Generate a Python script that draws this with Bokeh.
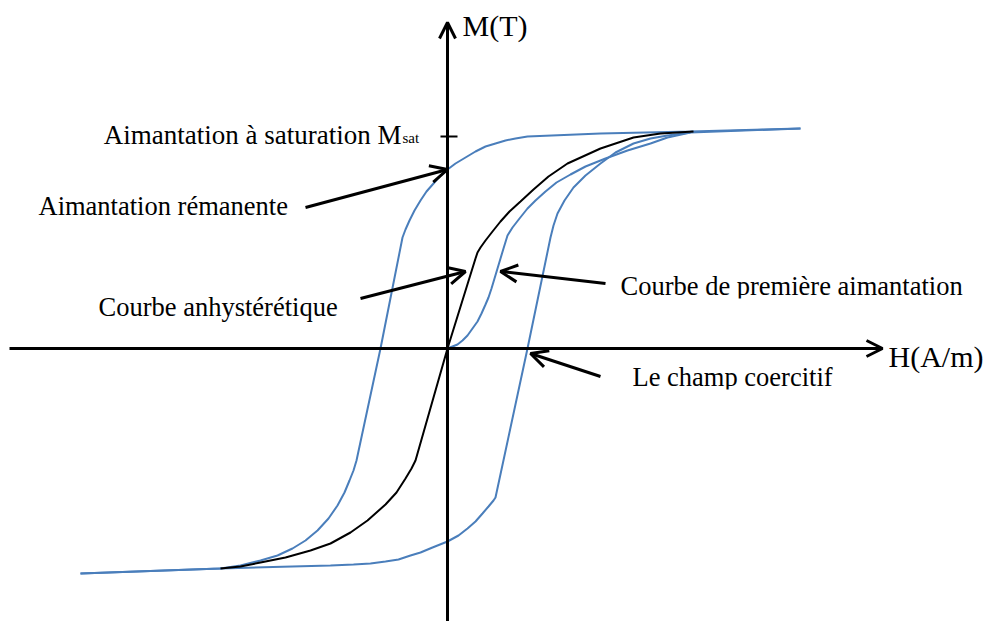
from bokeh.plotting import figure
from bokeh.models import Range1d, Arrow, OpenHead
from bokeh.core.properties import value
from bokeh.embed import file_html
from bokeh.resources import INLINE

# Hysteresis loop, descending branch (from +Msat towards -Msat)
desc_H = [3.53, 2.43, 1.53, 0.80, 0.68, 0.58, 0.48, 0.38, 0.28, 0.18, 0.08, 0.00,
          -0.07, -0.14, -0.21, -0.27, -0.33, -0.38, -0.42, -0.45,
          -0.67,
          -0.91, -0.94, -0.98, -1.03, -1.10, -1.19, -1.30, -1.42, -1.55, -1.70,
          -1.87, -2.07, -2.27, -3.67]
desc_M = [2.20, 2.17, 2.15, 2.12, 2.10, 2.08, 2.05, 2.02, 1.97, 1.91, 1.85, 1.79,
          1.73, 1.65, 1.57, 1.48, 1.38, 1.28, 1.19, 1.11,
          0.00,
          -1.12, -1.22, -1.32, -1.44, -1.57, -1.70, -1.82, -1.92, -2.00, -2.07,
          -2.12, -2.17, -2.20, -2.25]

# Hysteresis loop, ascending branch (from -Msat towards +Msat)
asc_H = [-3.67, -2.27, -1.17, -0.94, -0.77, -0.62, -0.49, -0.37, -0.27, -0.15, 0.00,
         0.11, 0.20, 0.28, 0.35, 0.41, 0.46, 0.48,
         0.80,
         1.03, 1.06, 1.10, 1.17, 1.26, 1.38, 1.53, 1.68, 1.86, 2.03, 2.20, 2.43, 3.53]
asc_M = [-2.25, -2.20, -2.17, -2.16, -2.15, -2.13, -2.11, -2.07, -2.04, -1.99, -1.93,
         -1.87, -1.80, -1.73, -1.65, -1.58, -1.52, -1.49,
         0.00,
         1.11, 1.23, 1.35, 1.48, 1.61, 1.73, 1.85, 1.96, 2.05, 2.10, 2.13, 2.16, 2.20]

# First magnetization curve
first_H = [0.00, 0.05, 0.10, 0.15, 0.20, 0.25, 0.30, 0.34, 0.38, 0.41, 0.44, 0.47,
           0.50, 0.53, 0.56, 0.60, 0.65, 0.72, 0.80, 0.88, 0.98, 1.09, 1.23, 1.38,
           1.58, 1.80, 2.03, 2.20, 2.43]
first_M = [0.00, 0.02, 0.04, 0.08, 0.13, 0.20, 0.27, 0.35, 0.44, 0.51, 0.60, 0.70,
           0.80, 0.90, 1.00, 1.13, 1.21, 1.30, 1.40, 1.48, 1.57, 1.66, 1.74, 1.82,
           1.90, 1.98, 2.05, 2.11, 2.16]

# Anhysteretic curve
anh_H = [2.46, 2.13, 1.86, 1.53, 1.20, 1.01, 0.86, 0.73, 0.62, 0.53, 0.45, 0.38,
         0.33, 0.30, 0.28,
         0.00,
         -0.32, -0.36, -0.42, -0.51, -0.62, -0.80, -0.97, -1.17, -1.37, -1.62,
         -1.87, -2.07, -2.27]
anh_M = [2.17, 2.15, 2.11, 2.00, 1.85, 1.72, 1.59, 1.47, 1.37, 1.27, 1.17, 1.08,
         1.01, 0.96, 0.90,
         0.00,
         -1.12, -1.20, -1.30, -1.44, -1.56, -1.72, -1.84, -1.95, -2.02, -2.09,
         -2.14, -2.18, -2.20]

M_sat = 2.12
M_rem = 1.79
H_c = 0.80

BLUE = "#4a7ebb"
SERIF = value("Liberation Serif")
TY = 0.11  # lift so the alphabetic baseline lands where intended

p = figure(width=993, height=621, x_range=Range1d(-4.47, 5.46),
           y_range=Range1d(-2.73, 3.48), output_backend="svg",
           toolbar_location=None, x_axis_location=None, y_axis_location=None,
           min_border=0)
p.grid.visible = False
p.outline_line_color = None
p.background_fill_color = "white"
p.border_fill_color = "white"

# curves
p.line(desc_H, desc_M, line_color=BLUE, line_width=2)
p.line(asc_H, asc_M, line_color=BLUE, line_width=2)
p.line(first_H, first_M, line_color=BLUE, line_width=2)
p.line(anh_H, anh_M, line_color="black", line_width=2)

# axes drawn as arrows through the origin
p.add_layout(Arrow(end=OpenHead(size=16, line_width=3, line_color="black"),
                   x_start=-4.38, y_start=0, x_end=4.35, y_end=0,
                   line_width=3, line_color="black"))
p.add_layout(Arrow(end=OpenHead(size=16, line_width=3, line_color="black"),
                   x_start=0, y_start=-2.75, x_end=0, y_end=3.26,
                   line_width=3, line_color="black"))
# saturation tick
p.segment(x0=[-0.07], y0=[M_sat], x1=[0.10], y1=[M_sat], line_color="black", line_width=2)

# axis titles
p.text(x=[0.15], y=[3.12 + TY], text=["M(T)"], text_font=SERIF, text_font_size="30px",
       text_baseline="alphabetic", text_align="left", text_color="black")
p.text(x=[4.41], y=[-0.19 + TY], text=["H(A/m)"], text_font=SERIF, text_font_size="30px",
       text_baseline="alphabetic", text_align="left", text_color="black")

# annotations
FS = "26.5px"
p.text(x=[-0.46], y=[2.03 + TY], text=["Aimantation à saturation M"], text_font=SERIF,
       text_font_size="27px", text_baseline="alphabetic", text_align="right",
       text_color="black")
p.text(x=[-0.45], y=[2.00 + TY], text=["sat"], text_font=SERIF, text_font_size="15px",
       text_baseline="alphabetic", text_align="left", text_color="black")
labels_x = [-4.09, -3.49, 1.73, 1.85]
labels_y = [1.32 + TY, 0.31 + TY, 0.52 + TY, -0.39 + TY]
labels = ["Aimantation rémanente", "Courbe anhystérétique",
          "Courbe de première aimantation", "Le champ coercitif"]
p.text(x=labels_x, y=labels_y, text=labels, text_font=SERIF, text_font_size=FS,
       text_baseline="alphabetic", text_align="left", text_color="black")

# text boxes cut the descenders of some labels
p.quad(left=[-4.15, 1.65, 1.78], right=[-1.55, 5.23, 3.93],
       top=[1.30, 0.50, -0.41], bottom=[1.18, 0.38, -0.52],
       fill_color="white", line_color=None)

# pointer arrows
pointers = [(-1.42, 1.41, 0.0, M_rem),
            (-0.87, 0.50, 0.18, 0.77),
            (1.58, 0.65, 0.53, 0.77),
            (1.53, -0.28, H_c + 0.03, -0.05)]
for xs, ys, xe, ye in pointers:
    p.add_layout(Arrow(end=OpenHead(size=17, line_width=3, line_color="black"),
                       x_start=xs, y_start=ys, x_end=xe, y_end=ye,
                       line_width=3, line_color="black"))

open("out.html", "w").write(file_html(p, INLINE))
